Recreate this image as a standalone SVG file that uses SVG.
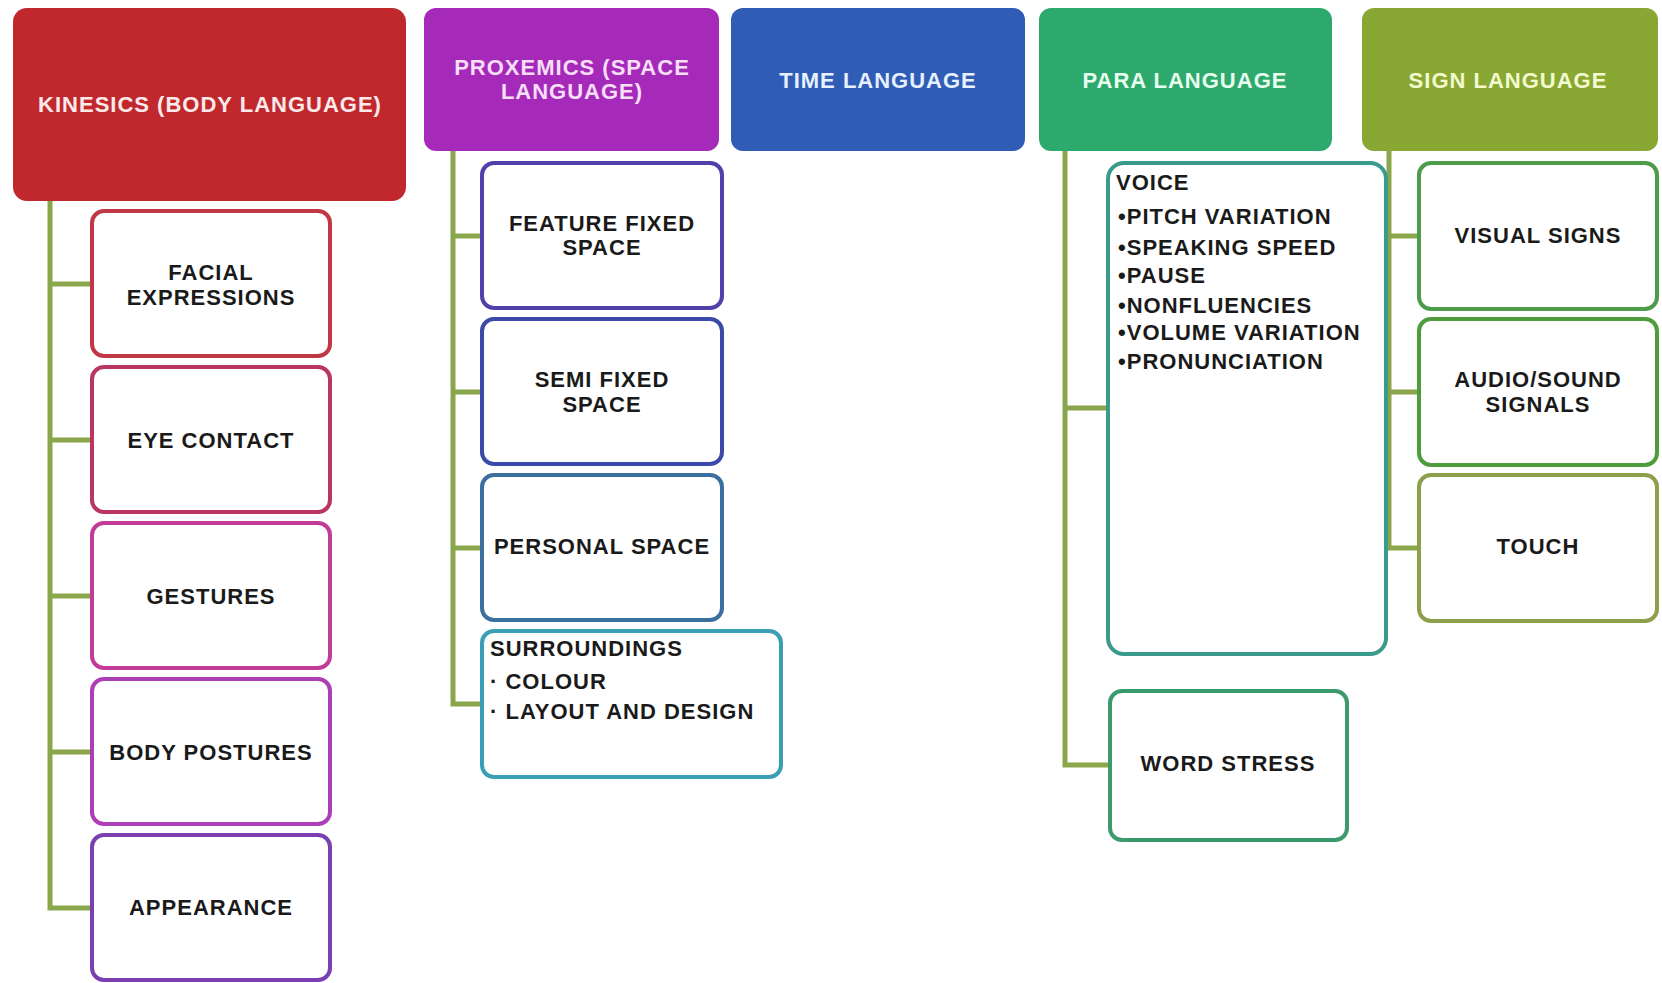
<svg xmlns="http://www.w3.org/2000/svg" width="1662" height="983" viewBox="0 0 1662 983">
<style>
text{font-family:"Liberation Sans",Arial,sans-serif;font-weight:bold;font-size:22px;letter-spacing:1px}
.c{text-anchor:middle}
.dk{fill:#1a1a1a}
.hd{stroke:none}
.bx{fill:#ffffff;stroke-width:4}
.cn{fill:none;stroke:#8aa64a;stroke-width:5}
</style>
<rect width="1662" height="983" fill="#ffffff"/>
<g id="connectors">
<path class="cn" d="M50 201V908H92M50 284H92M50 440H92M50 596H92M50 752H92"/>
<path class="cn" d="M453 151V704H482M453 236H482M453 392H482M453 548H482"/>
<path class="cn" d="M1065 151V765H1110M1065 408H1108"/>
<path class="cn" d="M1389 151V548H1419M1389 236H1419M1389 392H1419"/>
</g>
<g id="kinesics">
<rect class="hd" x="13" y="8" width="393" height="193" rx="14" fill="#c1282d"/>
<text class="c" x="210" y="112" fill="#fbeaea">KINESICS (BODY LANGUAGE)</text>
</g>
<g id="proxemics">
<rect class="hd" x="424" y="8" width="295" height="143" rx="12" fill="#a62ab9"/>
<text class="c" x="572" y="75" fill="#f8def8">PROXEMICS (SPACE</text>
<text class="c" x="572" y="99" fill="#f8def8">LANGUAGE)</text>
</g>
<g id="time">
<rect class="hd" x="731" y="8" width="294" height="143" rx="12" fill="#2f5db5"/>
<text class="c" x="878" y="88" fill="#e6f0ff">TIME LANGUAGE</text>
</g>
<g id="para">
<rect class="hd" x="1039" y="8" width="293" height="143" rx="12" fill="#2ea96e"/>
<text class="c" x="1185" y="88" fill="#e8fff0">PARA LANGUAGE</text>
</g>
<g id="sign">
<rect class="hd" x="1362" y="8" width="296" height="143" rx="12" fill="#89a833"/>
<text class="c" x="1508" y="88" fill="#f4fad0">SIGN LANGUAGE</text>
</g>
<g id="facial">
<rect class="bx" x="92" y="211" width="238" height="145" rx="12" stroke="#c03845"/>
<text class="c dk" x="211" y="280">FACIAL</text>
<text class="c dk" x="211" y="305">EXPRESSIONS</text>
</g>
<g id="eye">
<rect class="bx" x="92" y="367" width="238" height="145" rx="12" stroke="#b8365f"/>
<text class="c dk" x="211" y="448">EYE CONTACT</text>
</g>
<g id="gestures">
<rect class="bx" x="92" y="523" width="238" height="145" rx="12" stroke="#c03c98"/>
<text class="c dk" x="211" y="604">GESTURES</text>
</g>
<g id="body">
<rect class="bx" x="92" y="679" width="238" height="145" rx="12" stroke="#ad3fb6"/>
<text class="c dk" x="211" y="760">BODY POSTURES</text>
</g>
<g id="appearance">
<rect class="bx" x="92" y="835" width="238" height="145" rx="12" stroke="#7a3fb0"/>
<text class="c dk" x="211" y="915">APPEARANCE</text>
</g>
<g id="feature">
<rect class="bx" x="482" y="163" width="240" height="145" rx="12" stroke="#5240aa"/>
<text class="c dk" x="602" y="231">FEATURE FIXED</text>
<text class="c dk" x="602" y="255">SPACE</text>
</g>
<g id="semi">
<rect class="bx" x="482" y="319" width="240" height="145" rx="12" stroke="#3b4aa8"/>
<text class="c dk" x="602" y="387">SEMI FIXED</text>
<text class="c dk" x="602" y="412">SPACE</text>
</g>
<g id="personal">
<rect class="bx" x="482" y="475" width="240" height="145" rx="12" stroke="#3a6fa0"/>
<text class="c dk" x="602" y="554">PERSONAL SPACE</text>
</g>
<g id="surroundings">
<rect class="bx" x="482" y="631" width="299" height="146" rx="12" stroke="#3a9fb6"/>
<text class="dk" x="490" y="656">SURROUNDINGS</text>
<text class="dk" x="490" y="689">· COLOUR</text>
<text class="dk" x="490" y="719">· LAYOUT AND DESIGN</text>
</g>
<g id="voice">
<rect class="bx" x="1108" y="163" width="278" height="491" rx="16" stroke="#3a9a8c"/>
<text class="dk" x="1116" y="190">VOICE</text>
<text class="dk" x="1118" y="224">•PITCH VARIATION</text>
<text class="dk" x="1118" y="255">•SPEAKING SPEED</text>
<text class="dk" x="1118" y="283">•PAUSE</text>
<text class="dk" x="1118" y="313">•NONFLUENCIES</text>
<text class="dk" x="1118" y="340">•VOLUME VARIATION</text>
<text class="dk" x="1118" y="369">•PRONUNCIATION</text>
</g>
<g id="wordstress">
<rect class="bx" x="1110" y="691" width="237" height="149" rx="12" stroke="#3a9a6c"/>
<text class="c dk" x="1228" y="771">WORD STRESS</text>
</g>
<g id="visual">
<rect class="bx" x="1419" y="163" width="238" height="146" rx="12" stroke="#4c9c4a"/>
<text class="c dk" x="1538" y="243">VISUAL SIGNS</text>
</g>
<g id="audio">
<rect class="bx" x="1419" y="319" width="238" height="146" rx="12" stroke="#4f9c3c"/>
<text class="c dk" x="1538" y="387">AUDIO/SOUND</text>
<text class="c dk" x="1538" y="412">SIGNALS</text>
</g>
<g id="touch">
<rect class="bx" x="1419" y="475" width="238" height="146" rx="12" stroke="#8ca04c"/>
<text class="c dk" x="1538" y="554">TOUCH</text>
</g>
</svg>
